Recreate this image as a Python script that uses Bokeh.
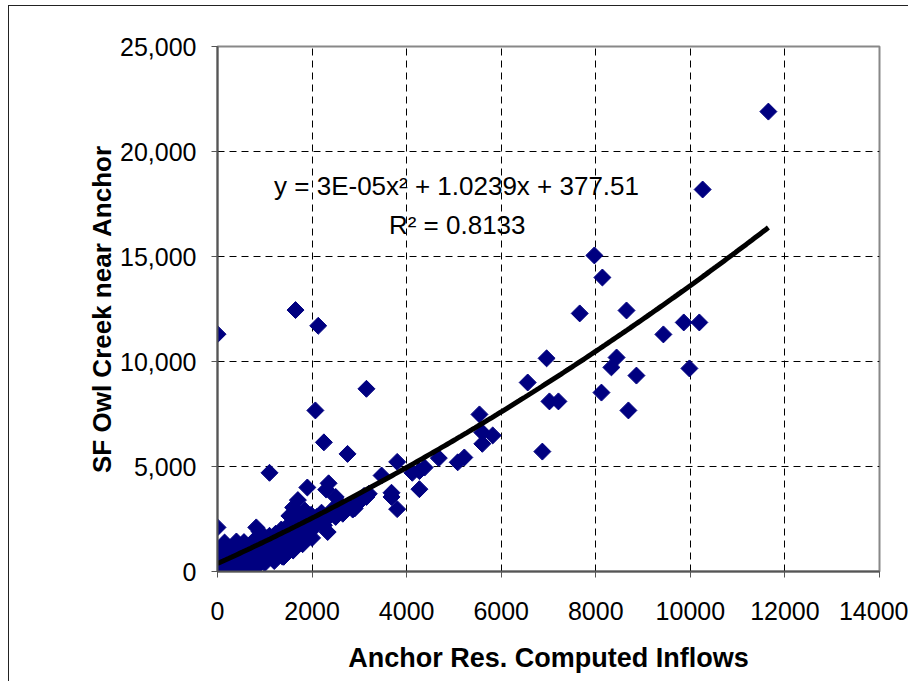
import numpy as np
from bokeh.plotting import figure
from bokeh.models import FixedTicker, NumeralTickFormatter, Range1d, Label
from bokeh.embed import file_html
from bokeh.resources import INLINE

# Scatter data
x_vals = [
    0, 0, 0, 0, 0, 20, 40, 50, 60, 80, 100, 100, 120, 150, 180, 200, 220, 250, 260, 300,
    320, 350, 380, 400, 420, 450, 480, 500, 530, 560, 600, 620, 650, 680, 700, 720, 750, 780,
    800, 820, 850, 880, 900, 930, 950, 980, 1000, 1020, 1050, 1080, 1100, 1120, 1150, 1180,
    1200, 1230, 1250, 1280, 1300, 1330, 1350, 1380, 1400, 1420, 1450, 1480, 1500, 1520, 1550,
    1580, 1600, 1620, 1650, 1680, 1700, 1720, 1750, 1780, 1800, 1830, 1850, 1880, 1900, 1930,
    1950, 1980, 2000, 2050, 2100, 2150, 2200, 2250, 2300, 2400, 2450, 2500, 2550, 2600, 2650,
    2700, 2800, 2900, 3000, 3100, 3200,
    800, 1000, 1200, 1400, 1600, 1800, 2000, 150, 400, 890, 1250, 1370,
    0, 1650, 2130, 2070, 3150, 1100, 2250, 2750, 1900, 2350, 2300, 2500, 1700, 1600, 1520,
    2330, 3470, 3800, 3680, 3680, 3800, 4270, 4120, 4380, 4270, 4680, 5080, 5220, 3150, 3000,
    2860, 2640, 5540, 5600, 5820, 5600, 6870, 6560, 6960, 7020, 7210, 7660, 7970, 8140, 8120,
    8440, 8330, 8650, 8690, 8860, 9430, 9860, 10190, 9980, 10260, 11650, 0, 820,
]
y_vals = [
    100, 300, 500, 700, 900, 200, 1000, 400, 150, 600, 800, 300, 1200, 500, 100, 900, 300, 700, 1100, 200,
    500, 900, 1300, 400, 150, 700, 1100, 300, 900, 1400, 500, 250, 800, 1200, 600, 1000, 400, 1500,
    800, 1100, 600, 1300, 1000, 700, 1600, 1200, 900, 1400, 1100, 700, 1700, 1300, 1000, 1500,
    1200, 1800, 900, 1400, 1100, 1700, 2000, 1300, 800, 1600, 1900, 1400, 2200, 1700, 1200,
    2000, 1600, 2400, 1900, 1400, 2200, 1800, 2600, 2000, 1700, 2300, 2900, 2100, 1800, 2500,
    2000, 2700, 2300, 2100, 2600, 2400, 2800, 2200, 2500, 2700, 3000, 2600, 2800, 3200, 2750,
    3000, 3100, 3000, 3300, 3600, 3700,
    150, 400, 500, 700, 1000, 1300, 1600, 1380, 1430, 1900, 1520, 710,
    11300, 12450, 11700, 7670, 8700, 4700, 6150, 5600, 4000, 4200, 3900, 3550, 3400, 3050, 2650,
    1880, 4570, 5220, 3750, 3550, 2970, 3920, 4700, 4950, 4780, 5400, 5200, 5430, 3550, 3330,
    2950, 2950, 7480, 6620, 6480, 6080, 5710, 9000, 10150, 8100, 8100, 12290, 15050, 14000, 8520,
    10190, 9720, 12430, 7670, 9330, 11290, 11860, 11860, 9670, 18190, 21900, 2100, 2100,
]

# Polynomial trendline coefficients (from the chart's equation)
coef_a, coef_b, coef_c = 3e-05, 1.0239, 377.51
eq_text = "y = 3E-05x\u00b2 + 1.0239x + 377.51"
r2_text = "R\u00b2 = 0.8133"

x_ticks = [0, 2000, 4000, 6000, 8000, 10000, 12000, 14000]
y_ticks = [0, 5000, 10000, 15000, 20000, 25000]

p = figure(width=900, height=676, output_backend="svg", toolbar_location=None,
           x_range=Range1d(0, 14000), y_range=Range1d(0, 25000),
           min_border_left=208, min_border_right=30, min_border_top=40, min_border_bottom=111)
p.styles = {"margin-left": "8px", "margin-top": "5px",
            "border-left": "1.5px solid #222", "border-top": "1.5px solid #222"}

p.outline_line_color = "#888888"
p.outline_line_width = 2

for ax in (p.xaxis[0], p.yaxis[0]):
    ax.axis_line_color = "#555555"
    ax.axis_line_width = 2
    ax.major_tick_line_color = "#555555"
    ax.major_tick_in = 0
    ax.major_tick_out = 6
    ax.minor_tick_line_color = None
    ax.major_label_text_font = "Liberation Sans"
    ax.major_label_text_font_size = "25px"
    ax.major_label_text_color = "#000000"
    ax.axis_label_text_font = "Liberation Sans"
    ax.axis_label_text_font_style = "bold"
    ax.axis_label_text_color = "#000000"

p.xaxis.axis_label_text_font_size = "27px"
p.yaxis.axis_label_text_font_size = "26px"
p.xaxis.ticker = FixedTicker(ticks=x_ticks)
p.yaxis.ticker = FixedTicker(ticks=y_ticks)
p.yaxis.formatter = NumeralTickFormatter(format="0,0")
p.xaxis.axis_label = "Anchor Res. Computed Inflows"
p.yaxis.axis_label = "SF Owl Creek near Anchor"
p.xaxis.major_label_standoff = 24
p.yaxis.major_label_standoff = 15
p.xaxis.axis_label_standoff = 20
p.yaxis.axis_label_standoff = 0

for g in (p.xgrid[0], p.ygrid[0]):
    g.grid_line_color = "#000000"
    g.grid_line_dash = "7 5"
    g.grid_line_width = 1

p.scatter(x_vals, y_vals, marker="square", size=12, angle=np.pi / 4,
          fill_color="#000080", line_color="#000080")

tx = np.linspace(0, max(x_vals), 200)
ty = coef_a * tx ** 2 + coef_b * tx + coef_c
p.line(tx, ty, line_color="#000000", line_width=5)

p.add_layout(Label(x=5055, y=18380, text=eq_text, text_align="center", text_baseline="middle",
                   text_font="Liberation Sans", text_font_size="26px", text_color="#000000"))
p.add_layout(Label(x=5070, y=16480, text=r2_text, text_align="center", text_baseline="middle",
                   text_font="Liberation Sans", text_font_size="26px", text_color="#000000"))

open("out.html", "w").write(file_html(p, INLINE))
